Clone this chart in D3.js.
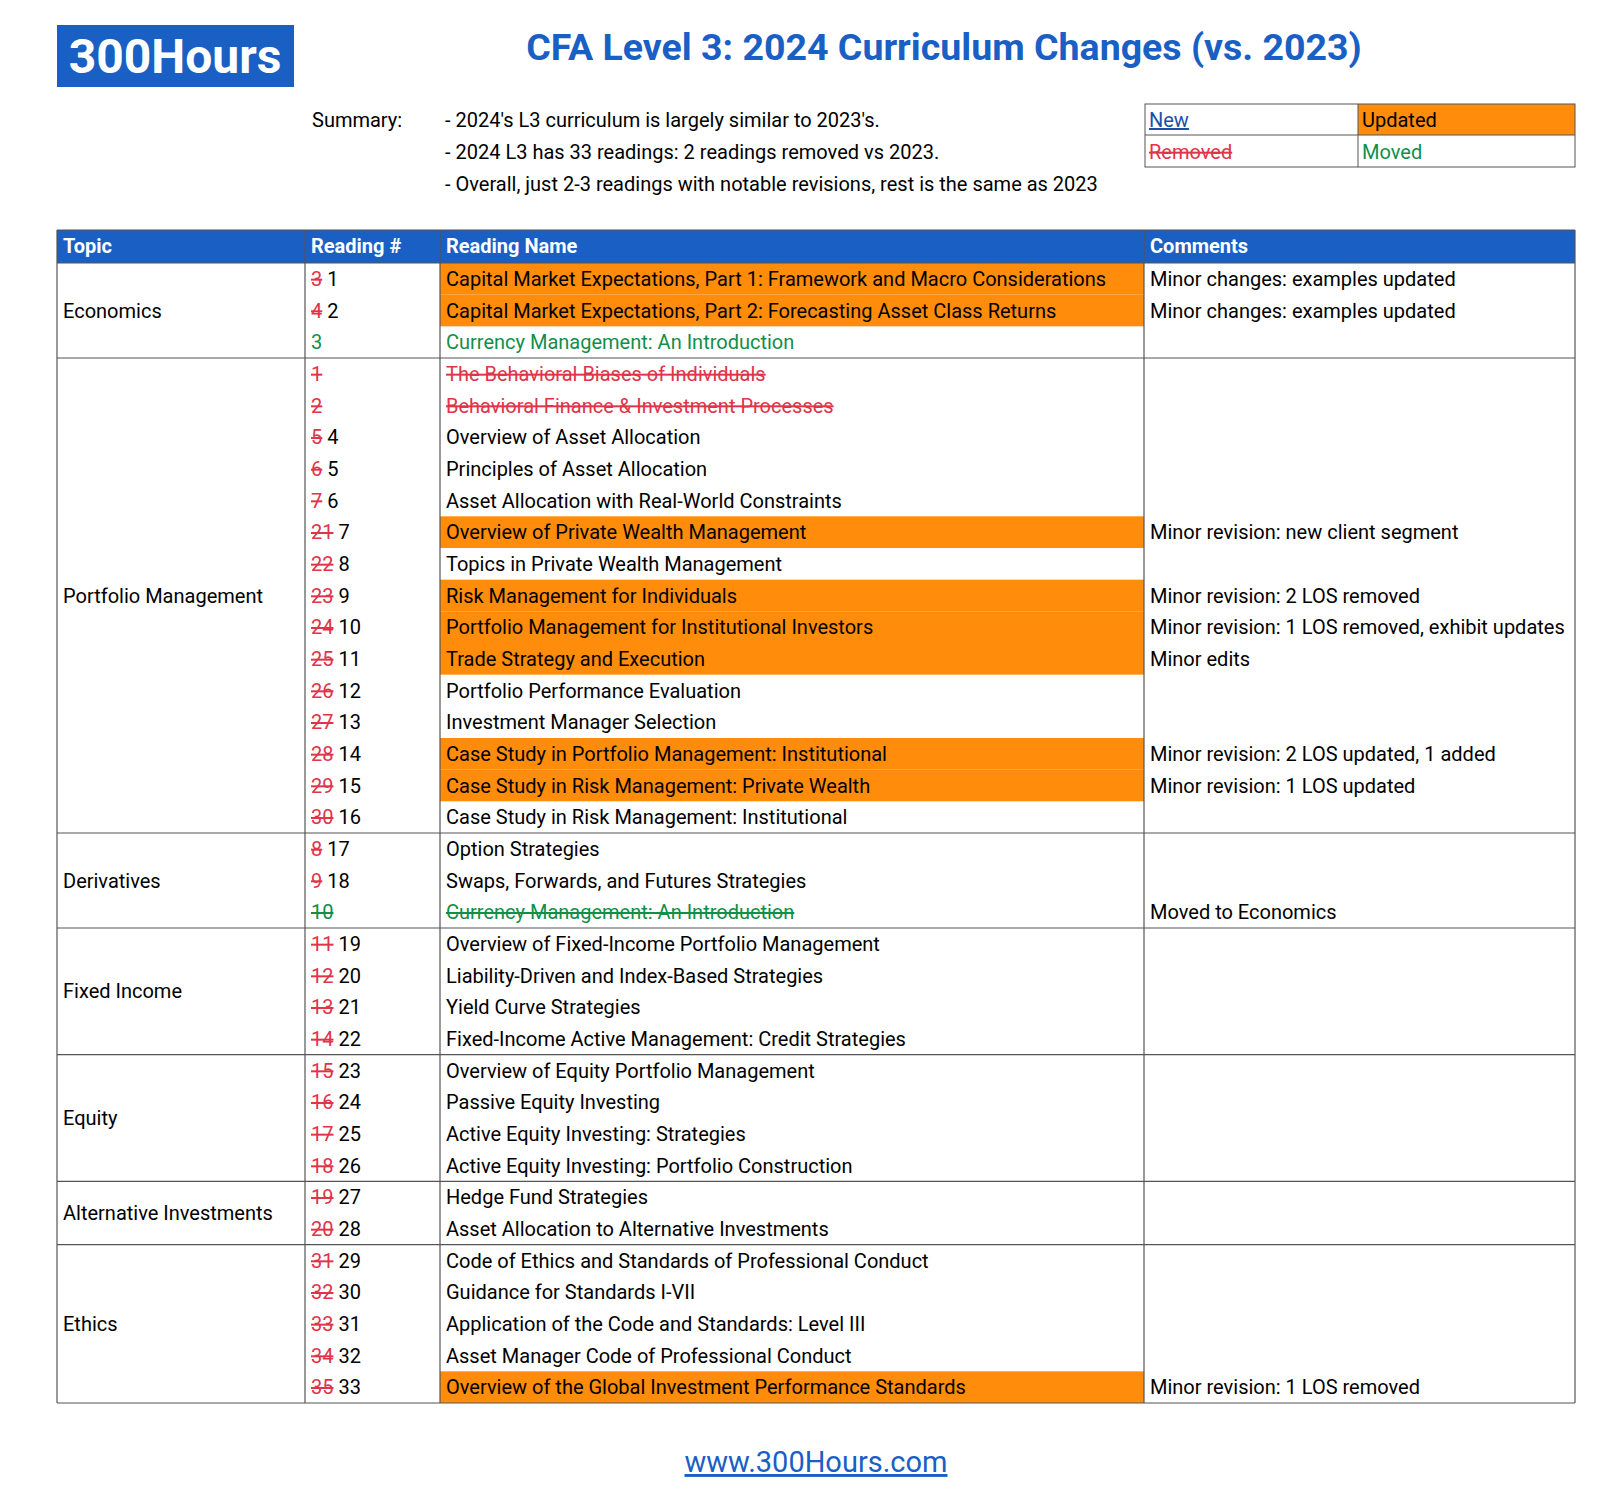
<!DOCTYPE html>
<html><head><meta charset="utf-8">
<script src="https://cdn.jsdelivr.net/npm/d3@7"></script>
<style>body{margin:0;background:#fff}text{font-family:Roboto,sans-serif}</style>
</head><body>
<script>
// topic blocks: name and number of rows
var topics = [["Economics",3],["Portfolio Management",15],["Derivatives",3],["Fixed Income",4],["Equity",4],["Alternative Investments",2],["Ethics",5]];
var oldNums = ["3","4","","1","2","5","6","7","21","22","23","24","25","26","27","28","29","30","8","9","10","11","12","13","14","15","16","17","18","19","20","31","32","33","34","35"];
var newNums = ["1","2","3","","","4","5","6","7","8","9","10","11","12","13","14","15","16","17","18","","19","20","21","22","23","24","25","26","27","28","29","30","31","32","33"];
var names = ["Capital Market Expectations, Part 1: Framework and Macro Considerations","Capital Market Expectations, Part 2: Forecasting Asset Class Returns","Currency Management: An Introduction","The Behavioral Biases of Individuals","Behavioral Finance & Investment Processes","Overview of Asset Allocation","Principles of Asset Allocation","Asset Allocation with Real-World Constraints","Overview of Private Wealth Management","Topics in Private Wealth Management","Risk Management for Individuals","Portfolio Management for Institutional Investors","Trade Strategy and Execution","Portfolio Performance Evaluation","Investment Manager Selection","Case Study in Portfolio Management: Institutional","Case Study in Risk Management: Private Wealth","Case Study in Risk Management: Institutional","Option Strategies","Swaps, Forwards, and Futures Strategies","Currency Management: An Introduction","Overview of Fixed-Income Portfolio Management","Liability-Driven and Index-Based Strategies","Yield Curve Strategies","Fixed-Income Active Management: Credit Strategies","Overview of Equity Portfolio Management","Passive Equity Investing","Active Equity Investing: Strategies","Active Equity Investing: Portfolio Construction","Hedge Fund Strategies","Asset Allocation to Alternative Investments","Code of Ethics and Standards of Professional Conduct","Guidance for Standards I-VII","Application of the Code and Standards: Level III","Asset Manager Code of Professional Conduct","Overview of the Global Investment Performance Standards"];
// u = updated, m = moved (new place), x = removed, mx = moved away
var states = ["u","u","m","x","x","","","","u","","u","u","u","","","u","u","","","","mx","","","","","","","","","","","","","","","u"];
var comments = ["Minor changes: examples updated","Minor changes: examples updated","","","","","","","Minor revision: new client segment","","Minor revision: 2 LOS removed","Minor revision: 1 LOS removed, exhibit updates","Minor edits","","","Minor revision: 2 LOS updated, 1 added","Minor revision: 1 LOS updated","","","","Moved to Economics","","","","","","","","","","","","","","","Minor revision: 1 LOS removed"];
var summary = ["- 2024's L3 curriculum is largely similar to 2023's.","- 2024 L3 has 33 readings: 2 readings removed vs 2023.","- Overall, just 2-3 readings with notable revisions, rest is the same as 2023"];

var W=1621,H=1493, blue="#1a5fc4", orange="#ff8c0a", red="#e0344a", green="#0f8f4a", fs=20;
var svg=d3.select("body").append("svg").attr("width",W).attr("height",H);

// logo + title
svg.append("rect").attr("x",57).attr("y",25).attr("width",237).attr("height",62).attr("fill",blue);
svg.append("text").attr("x",175).attr("y",73).attr("text-anchor","middle").attr("fill","#fff").attr("font-size",48).attr("font-weight",700).text("300Hours");
svg.append("text").attr("x",944).attr("y",60).attr("text-anchor","middle").attr("fill",blue).attr("font-size",37.5).attr("font-weight",700).text("CFA Level 3: 2024 Curriculum Changes (vs. 2023)");

// summary
svg.append("text").attr("x",312).attr("y",127).attr("font-size",fs).text("Summary:");
svg.selectAll("text.sum").data(summary).join("text").attr("class","sum").attr("x",445).attr("y",(d,i)=>127+i*32).attr("font-size",fs).text(d=>d);

// legend
var lg=svg.append("g");
lg.append("rect").attr("x",1358).attr("y",104).attr("width",217).attr("height",31).attr("fill",orange);
lg.append("rect").attr("x",1145).attr("y",104).attr("width",430).attr("height",63).attr("fill","none").attr("stroke","#555");
lg.append("line").attr("x1",1145).attr("x2",1575).attr("y1",135).attr("y2",135).attr("stroke","#555");
lg.append("line").attr("x1",1358).attr("x2",1358).attr("y1",104).attr("y2",167).attr("stroke","#555");
lg.append("text").attr("x",1149).attr("y",127).attr("font-size",fs).attr("fill","#1a4fa8").attr("text-decoration","underline").text("New");
lg.append("text").attr("x",1362).attr("y",127).attr("font-size",fs).text("Updated");
lg.append("text").attr("x",1149).attr("y",159).attr("font-size",fs).attr("fill",red).attr("text-decoration","line-through").text("Removed");
lg.append("text").attr("x",1362).attr("y",159).attr("font-size",fs).attr("fill",green).text("Moved");

// table
var cols=[57,305,440,1144,1575], tTop=230, hh=33;
var y=d3.scaleLinear().domain([0,names.length]).range([tTop+hh,1403]);
var rh=y(1)-y(0);
svg.append("rect").attr("x",57).attr("y",tTop).attr("width",cols[4]-57).attr("height",hh).attr("fill",blue);
["Topic","Reading #","Reading Name","Comments"].forEach((t,i)=>svg.append("text").attr("x",cols[i]+6).attr("y",tTop+23).attr("font-size",fs).attr("font-weight",700).attr("fill","#fff").text(t));
var g=svg.append("g");
names.forEach((n,i)=>{
  var st=states[i], yy=y(i)+23;
  if(st==="u"){
    g.append("rect").attr("x",cols[2]).attr("y",y(i)).attr("width",cols[3]-cols[2]).attr("height",rh).attr("fill",orange);
  }
  var nt=g.append("text").attr("x",cols[1]+6).attr("y",yy).attr("font-size",fs);
  if(oldNums[i]) nt.append("tspan").attr("fill",st==="mx"?green:red).attr("text-decoration","line-through").text(oldNums[i]);
  if(newNums[i]) nt.append("tspan").attr("fill",st==="m"?green:"#000").text((oldNums[i]?" ":"")+newNums[i]);
  var t=g.append("text").attr("x",cols[2]+6).attr("y",yy).attr("font-size",fs).text(n)
    .attr("fill",st==="x"?red:(st==="m"||st==="mx")?green:"#000");
  if(st==="x"||st==="mx") t.attr("text-decoration","line-through");
  if(comments[i]) g.append("text").attr("x",cols[3]+6).attr("y",yy).attr("font-size",fs).text(comments[i]);
});
// cell borders
var lines=svg.append("g").attr("stroke","#555").attr("stroke-width",1.2);
cols.forEach(c=>lines.append("line").attr("x1",c).attr("x2",c).attr("y1",tTop).attr("y2",y(names.length)));
var start=0;
topics.forEach(tp=>{
  var y0=y(start), y1=y(start+tp[1]);
  svg.append("text").attr("x",cols[0]+6).attr("y",(y0+y1)/2+7).attr("font-size",fs).text(tp[0]);
  lines.append("line").attr("x1",57).attr("x2",cols[4]).attr("y1",y1).attr("y2",y1);
  start+=tp[1];
});
lines.append("line").attr("x1",57).attr("x2",cols[4]).attr("y1",tTop).attr("y2",tTop);
lines.append("line").attr("x1",57).attr("x2",cols[4]).attr("y1",tTop+hh).attr("y2",tTop+hh);

svg.append("text").attr("x",816).attr("y",1472).attr("text-anchor","middle").attr("font-size",29).attr("fill",blue).attr("text-decoration","underline").text("www.300Hours.com");
</script>
</body></html>
